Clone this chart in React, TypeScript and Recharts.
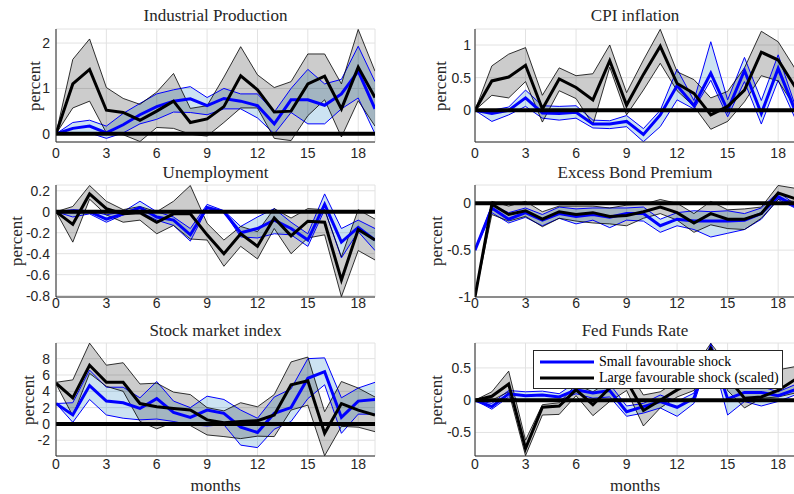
import React from "react";
import {
  ComposedChart,
  Area,
  Line,
  XAxis,
  YAxis,
  CartesianGrid,
  ReferenceLine,
} from "recharts";

// horizon in months
const months = [0, 1, 2, 3, 4, 5, 6, 7, 8, 9, 10, 11, 12, 13, 14, 15, 16, 17, 18, 19];
const monthTicks = [0, 3, 6, 9, 12, 15, 18];

const seriesNames = ["Small favourable shock", "Large favourable shock (scaled)"];

// Industrial Production
const ipSmallMid = [0, 0.12, 0.17, 0.02, 0.2, 0.42, 0.6, 0.72, 0.77, 0.62, 0.78, 0.72, 0.62, 0.22, 0.75, 0.75, 0.63, 0.88, 1.38, 0.55];
const ipSmallLo = [0, 0.02, 0.02, -0.1, 0.02, 0.22, 0.32, 0.48, 0.47, 0.42, 0.55, 0.55, 0.35, 0.0, 0.47, 0.22, 0.22, 0.55, 0.79, 0.0];
const ipSmallHi = [0, 0.25, 0.3, 0.17, 0.45, 0.67, 0.88, 0.97, 1.04, 0.8, 1.0, 0.88, 0.88, 0.48, 1.0, 1.42, 1.1, 1.2, 1.93, 1.15];
const ipLargeMid = [0, 1.1, 1.42, 0.52, 0.47, 0.3, 0.5, 0.72, 0.25, 0.33, 0.6, 1.28, 0.97, 0.48, 0.5, 1.1, 1.27, 0.55, 1.47, 0.8];
const ipLargeLo = [0, 0.57, 0.72, 0.02, -0.02, -0.17, 0.14, 0.12, -0.01, -0.05, 0.25, 0.57, 0.57, -0.1, -0.15, 0.4, 0.75, -0.07, 0.73, 0.17];
const ipLargeHi = [0, 1.64, 2.09, 1.02, 0.78, 0.65, 0.92, 1.33, 0.56, 0.62, 1.25, 1.92, 1.3, 1.02, 1.15, 1.76, 1.76, 1.1, 2.3, 1.38];

// CPI inflation
const cpiSmallMid = [0, -0.05, 0.0, 0.19, -0.04, -0.05, -0.03, -0.21, -0.21, -0.17, -0.37, -0.07, 0.38, 0.07, 0.57, 0.0, 0.61, -0.05, 0.64, 0.0];
const cpiSmallLo = [0, -0.17, -0.07, 0.06, -0.12, -0.15, -0.12, -0.27, -0.28, -0.25, -0.48, -0.25, 0.16, 0.02, 0.46, -0.1, 0.44, -0.21, 0.46, -0.12];
const cpiSmallHi = [0, 0.0, 0.05, 0.31, 0.07, 0.06, 0.07, -0.15, -0.16, -0.08, -0.28, 0.0, 0.63, 0.15, 1.05, 0.16, 0.81, 0.15, 0.85, 0.08];
const cpiLargeMid = [0, 0.45, 0.51, 0.69, 0.02, 0.48, 0.35, 0.16, 0.76, 0.08, 0.55, 0.98, 0.41, 0.26, -0.07, 0.06, 0.31, 0.89, 0.77, 0.36];
const cpiLargeLo = [0, 0.23, 0.19, 0.44, -0.18, 0.3, 0.18, -0.22, 0.66, -0.07, 0.31, 0.72, 0.3, 0.06, -0.29, -0.17, 0.13, 0.53, 0.45, 0.05];
const cpiLargeHi = [0, 0.68, 0.86, 0.96, 0.23, 0.65, 0.53, 0.56, 1.0, 0.27, 0.77, 1.24, 0.59, 0.47, 0.19, 0.29, 0.65, 1.21, 1.05, 0.64];

// Unemployment
const unSmallMid = [0, 0.0, 0.0, -0.07, -0.02, 0.04, -0.05, -0.08, -0.22, 0.04, 0.0, -0.2, -0.16, -0.08, -0.16, -0.27, 0.07, -0.29, -0.15, -0.27];
const unSmallLo = [0, -0.05, -0.02, -0.1, -0.03, 0.0, -0.08, -0.13, -0.28, 0.03, 0.0, -0.24, -0.25, -0.21, -0.22, -0.33, 0.02, -0.44, -0.19, -0.37];
const unSmallHi = [0, 0.02, 0.01, -0.03, 0.0, 0.1, 0.0, -0.05, -0.16, 0.07, 0.01, -0.14, -0.05, 0.03, -0.1, -0.21, 0.17, -0.16, -0.08, -0.16];
const unLargeMid = [0, -0.12, 0.17, 0.03, -0.02, -0.01, -0.1, -0.02, -0.02, -0.22, -0.4, -0.21, -0.33, -0.06, -0.23, -0.09, -0.1, -0.65, -0.17, -0.27];
const unLargeLo = [0, -0.29, 0.12, -0.03, -0.1, -0.08, -0.21, -0.13, -0.26, -0.27, -0.52, -0.33, -0.45, -0.16, -0.4, -0.25, -0.22, -0.81, -0.37, -0.46];
const unLargeHi = [0, 0.05, 0.25, 0.1, 0.02, 0.05, 0.0, 0.1, 0.25, -0.11, -0.27, -0.14, -0.19, 0.03, -0.06, 0.03, 0.02, -0.43, 0.02, -0.07];

// Excess Bond Premium
const ebpSmallMid = [-0.5, -0.05, -0.17, -0.1, -0.18, -0.11, -0.14, -0.12, -0.15, -0.11, -0.11, -0.24, -0.17, -0.19, -0.19, -0.19, -0.18, -0.11, 0.07, -0.03];
const ebpSmallLo = [-0.5, -0.1, -0.21, -0.15, -0.24, -0.16, -0.22, -0.18, -0.26, -0.18, -0.19, -0.31, -0.24, -0.28, -0.36, -0.32, -0.28, -0.17, 0.04, -0.05];
const ebpSmallHi = [-0.5, -0.02, -0.1, -0.05, -0.12, -0.04, -0.06, -0.05, -0.05, -0.05, -0.04, -0.17, -0.1, -0.08, -0.09, -0.08, -0.11, -0.05, 0.12, -0.01];
const ebpLargeMid = [-1, -0.01, -0.12, -0.08, -0.17, -0.09, -0.12, -0.1, -0.14, -0.13, -0.09, -0.04, -0.1, -0.21, -0.11, -0.17, -0.17, -0.11, 0.11, 0.05];
const ebpLargeLo = [-1, -0.12, -0.19, -0.14, -0.25, -0.16, -0.19, -0.21, -0.22, -0.24, -0.16, -0.11, -0.18, -0.31, -0.23, -0.27, -0.28, -0.16, 0.04, 0.02];
const ebpLargeHi = [-1, 0.02, -0.03, 0.02, -0.09, -0.03, -0.03, -0.03, -0.05, -0.02, -0.01, 0.04, 0.0, -0.11, 0.02, -0.07, -0.06, -0.04, 0.19, 0.16];

// Stock market index
const smSmallMid = [2.5, 1.1, 4.7, 2.8, 2.6, 1.9, 3.1, 1.4, 0.8, 1.7, 1.3, -0.4, -1.05, 1.3, 2.0, 5.6, 6.4, 0.8, 2.8, 3.0];
const smSmallLo = [2.5, 0.2, 3.0, 1.1, 0.7, 0.5, 0.6, 0.3, -0.1, -0.25, -0.1, -2.6, -2.9, -0.65, 0.3, 3.1, 4.8, -1.15, 1.2, 1.2];
const smSmallHi = [2.5, 2.6, 6.6, 4.5, 4.5, 3.2, 5.2, 2.8, 2.0, 3.4, 3.0, 1.7, 0.7, 3.3, 4.3, 8.0, 8.1, 3.2, 4.4, 5.1];
const smLargeMid = [5.0, 3.2, 7.2, 5.1, 5.1, 2.5, 2.1, 1.9, 1.7, 0.5, 0.15, 0.3, 0.4, 1.1, 4.8, 5.3, -1.15, 2.5, 1.7, 1.1];
const smLargeLo = [4.9, 1.0, 6.2, 4.6, 4.0, 0.3, -0.6, 0.2, -0.2, -1.35, -1.55, -1.8, -1.5, -1.55, 1.7, 2.3, -3.9, -0.3, -0.4, -0.95];
const smLargeHi = [5.1, 5.4, 9.9, 7.2, 7.5, 4.9, 5.0, 3.9, 3.6, 2.0, 1.6, 2.6, 2.1, 3.6, 7.6, 8.2, 1.5, 5.2, 4.4, 3.3];

// Fed Funds Rate
const ffrSmallMid = [0, -0.1, 0.1, 0.07, 0.08, 0.05, 0.16, 0.11, 0.15, -0.18, -0.1, -0.02, -0.11, 0.03, 0.8, 0.02, 0.12, 0.12, 0.07, 0.16];
const ffrSmallLo = [0, -0.14, 0.05, -0.02, -0.02, 0.0, 0.1, 0.03, 0.05, -0.25, -0.2, -0.12, -0.25, -0.05, 0.75, -0.23, -0.02, -0.09, -0.02, 0.08];
const ffrSmallHi = [0, -0.05, 0.15, 0.13, 0.14, 0.1, 0.28, 0.19, 0.25, -0.09, -0.05, 0.08, -0.02, 0.11, 0.88, 0.2, 0.19, 0.21, 0.13, 0.24];
const ffrLargeMid = [0, 0.06, 0.25, -0.75, -0.11, -0.09, 0.16, -0.07, 0.19, 0.3, -0.16, 0.0, 0.16, 0.3, 0.8, 0.35, 0.03, 0.05, 0.15, 0.32];
const ffrLargeLo = [0, 0.0, 0.13, -0.86, -0.23, -0.22, 0.07, -0.24, -0.02, 0.15, -0.4, -0.12, 0.05, 0.15, 0.7, 0.15, -0.12, 0.03, 0.05, 0.11];
const ffrLargeHi = [0, 0.13, 0.45, -0.62, -0.07, -0.04, 0.24, 0.13, 0.3, 0.5, 0.08, 0.13, 0.3, 0.5, 0.88, 0.55, 0.25, 0.3, 0.47, 0.52];

const SMALL = "#0000ff";
const LARGE = "#000000";
const INK = "#262626";
const SERIF = "'Liberation Serif', 'Times New Roman', serif";
const SANS = "'Liberation Sans', Arial, sans-serif";

type PanelSpec = {
  title: string;
  small: number[][]; // mid, lo, hi
  large: number[][];
  domain: [number, number];
  ticks: number[];
  col: number;
  row: number;
  labelX: number;
};

const panels: PanelSpec[] = [
  { title: "Industrial Production", small: [ipSmallMid, ipSmallLo, ipSmallHi], large: [ipLargeMid, ipLargeLo, ipLargeHi], domain: [-0.18, 2.31], ticks: [0, 1, 2], col: 0, row: 0, labelX: 34 },
  { title: "CPI inflation", small: [cpiSmallMid, cpiSmallLo, cpiSmallHi], large: [cpiLargeMid, cpiLargeLo, cpiLargeHi], domain: [-0.485, 1.245], ticks: [0, 0.5, 1], col: 1, row: 0, labelX: 440 },
  { title: "Unemployment", small: [unSmallMid, unSmallLo, unSmallHi], large: [unLargeMid, unLargeLo, unLargeHi], domain: [-0.813, 0.255], ticks: [-0.8, -0.6, -0.4, -0.2, 0, 0.2], col: 0, row: 1, labelX: 16 },
  { title: "Excess Bond Premium", small: [ebpSmallMid, ebpSmallLo, ebpSmallHi], large: [ebpLargeMid, ebpLargeLo, ebpLargeHi], domain: [-1, 0.195], ticks: [-1, -0.5, 0], col: 1, row: 1, labelX: 436 },
  { title: "Stock market index", small: [smSmallMid, smSmallLo, smSmallHi], large: [smLargeMid, smLargeLo, smLargeHi], domain: [-3.93, 9.92], ticks: [-2, 0, 2, 4, 6, 8], col: 0, row: 2, labelX: 28 },
  { title: "Fed Funds Rate", small: [ffrSmallMid, ffrSmallLo, ffrSmallHi], large: [ffrLargeMid, ffrLargeLo, ffrLargeHi], domain: [-0.865, 0.886], ticks: [-0.5, 0, 0.5], col: 1, row: 2, labelX: 436 },
];

// plot-area geometry per column / row
const colLeft = [0, 400];
const yAxisWidth = [56, 75];
const chartWidth = [380, 400];
const yTickMargin = [6, 4];
const rowPlotTop = [29, 185, 343];
const rowPlotBottom = [142, 297, 456];
const rowTitleY = [15, 172, 330];
const rowTickMargin = [6, 1, 3];

const TOP_PAD = 5;
const X_AXIS_H = 22;

const Caption = ({ x, y, children, rotate, size = 17 }: any) => (
  <div
    style={{
      position: "absolute",
      left: x,
      top: y,
      transform: `translate(-50%, -50%)${rotate ? " rotate(-90deg)" : ""}`,
      fontFamily: SERIF,
      fontSize: size,
      color: INK,
      whiteSpace: "nowrap",
      lineHeight: 1,
    }}
  >
    {children}
  </div>
);

const IrfPanel = ({ p }: { p: PanelSpec }) => {
  const data = months.map((m, i) => ({
    m,
    sMid: p.small[0][i],
    sLo: p.small[1][i],
    sHi: p.small[2][i],
    lMid: p.large[0][i],
    lLo: p.large[1][i],
    lHi: p.large[2][i],
  }));
  const plotTop = rowPlotTop[p.row];
  const plotH = rowPlotBottom[p.row] - plotTop;
  const plotLeft = colLeft[p.col] + yAxisWidth[p.col];
  const plotRight = colLeft[p.col] + chartWidth[p.col] - 5;

  return (
    <>
      <div style={{ position: "absolute", left: colLeft[p.col], top: plotTop - TOP_PAD }}>
        <ComposedChart
          width={chartWidth[p.col]}
          height={plotH + TOP_PAD + X_AXIS_H}
          data={data}
          margin={{ top: TOP_PAD, right: 5, bottom: 0, left: 0 }}
        >
          <CartesianGrid stroke="#e2e2e2" />
          <XAxis
            dataKey="m"
            type="number"
            domain={[0, 19]}
            ticks={monthTicks}
            interval={0}
            allowDataOverflow
            height={X_AXIS_H}
            tickLine={false}
            tickSize={0}
            tickMargin={rowTickMargin[p.row]}
            axisLine={{ stroke: INK }}
            tick={{ fill: INK, fontSize: 14, fontFamily: SANS }}
          />
          <YAxis
            type="number"
            domain={p.domain}
            ticks={p.ticks}
            interval={0}
            allowDataOverflow
            width={yAxisWidth[p.col]}
            tickLine={false}
            tickSize={0}
            tickMargin={yTickMargin[p.col]}
            axisLine={{ stroke: INK }}
            tick={{ fill: INK, fontSize: 14, fontFamily: SANS }}
          />
          <Area
            type="linear"
            dataKey={(d: any) => [d.sLo, d.sHi]}
            fill="#0072BD"
            fillOpacity={0.2}
            stroke="none"
            isAnimationActive={false}
          />
          <Area
            type="linear"
            dataKey={(d: any) => [d.lLo, d.lHi]}
            fill="#000000"
            fillOpacity={0.2}
            stroke="none"
            isAnimationActive={false}
          />
          <Line type="linear" dataKey="sLo" stroke={SMALL} strokeWidth={1} dot={false} isAnimationActive={false} />
          <Line type="linear" dataKey="sHi" stroke={SMALL} strokeWidth={1} dot={false} isAnimationActive={false} />
          <Line type="linear" dataKey="lLo" stroke={LARGE} strokeWidth={0.8} dot={false} isAnimationActive={false} />
          <Line type="linear" dataKey="lHi" stroke={LARGE} strokeWidth={0.8} dot={false} isAnimationActive={false} />
          <Line type="linear" dataKey="sMid" stroke={SMALL} strokeWidth={3} dot={false} isAnimationActive={false} />
          <Line type="linear" dataKey="lMid" stroke={LARGE} strokeWidth={3} dot={false} isAnimationActive={false} />
          <ReferenceLine y={0} stroke="#000000" strokeWidth={4} />
        </ComposedChart>
      </div>
      <Caption x={(plotLeft + plotRight) / 2} y={rowTitleY[p.row]}>
        {p.title}
      </Caption>
      <Caption x={p.labelX} y={plotTop + plotH / 2} rotate>
        percent
      </Caption>
      {p.row === 2 && (
        <Caption x={(plotLeft + plotRight) / 2} y={485}>
          months
        </Caption>
      )}
    </>
  );
};

const LegendBox = () => (
  <div
    style={{
      position: "absolute",
      left: 533,
      top: 350,
      width: 248,
      height: 37,
      background: "#ffffff",
      border: `1px solid ${INK}`,
    }}
  >
    {seriesNames.map((name, i) => (
      <div
        key={name}
        style={{ position: "absolute", left: 6, top: 3 + i * 16, height: 16, display: "flex", alignItems: "center" }}
      >
        <svg width={54} height={16}>
          <line x1={0} x2={54} y1={8} y2={8} stroke={i === 0 ? SMALL : LARGE} strokeWidth={3} />
        </svg>
        <span style={{ marginLeft: 5, fontFamily: SERIF, fontSize: 14, color: "#000" }}>{name}</span>
      </div>
    ))}
  </div>
);

export default function App() {
  return (
    <div
      style={{
        position: "absolute",
        left: 0,
        top: 0,
        width: 794,
        height: 494,
        overflow: "hidden",
        background: "#ffffff",
      }}
    >
      {panels.map((p) => (
        <IrfPanel key={p.title} p={p} />
      ))}
      <LegendBox />
    </div>
  );
}
